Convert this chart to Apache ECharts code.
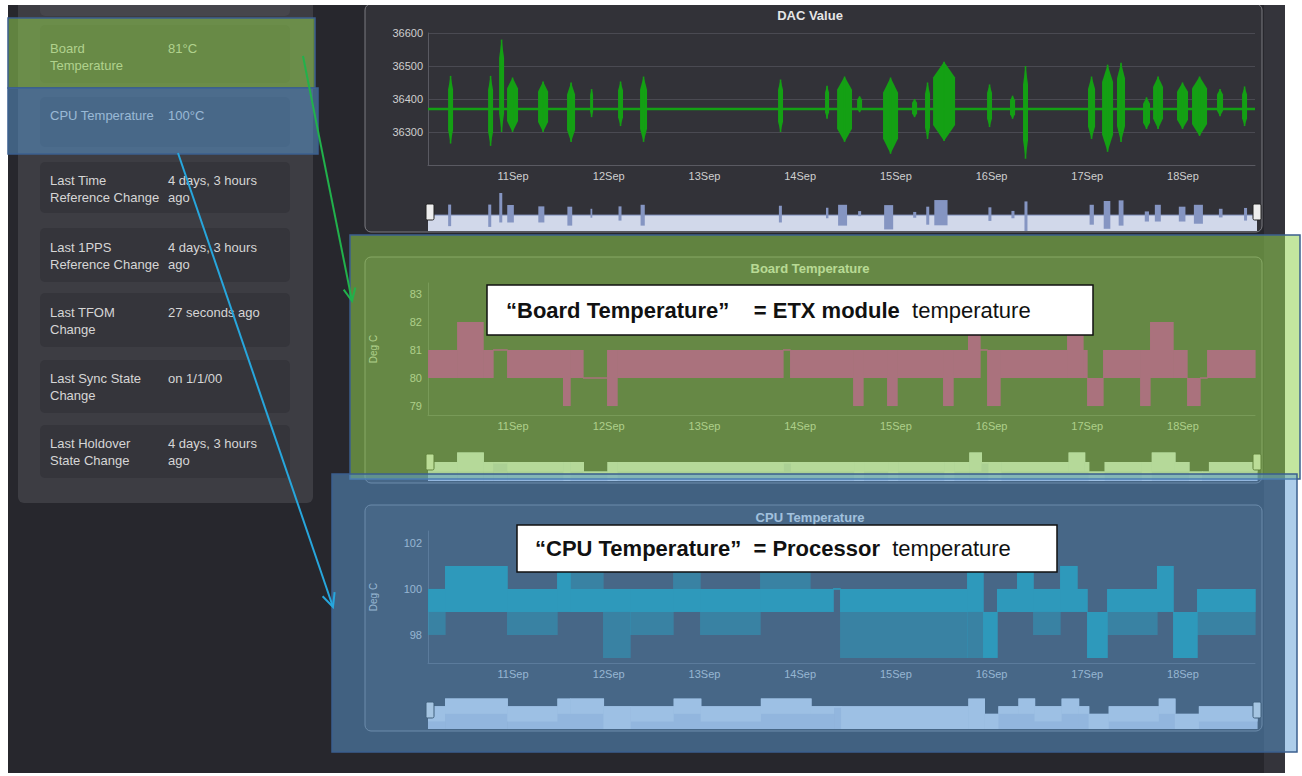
<!DOCTYPE html>
<html>
<head>
<meta charset="utf-8">
<title>DAC / Board / CPU temperature dashboard</title>
<script src="https://cdn.jsdelivr.net/npm/echarts@6.0.0/dist/echarts.min.js"></script>
<style>
html,body{margin:0;padding:0;background:#ffffff;overflow:hidden;}
#chart{width:1302px;height:776px;}
</style>
</head>
<body>
<div id="chart"></div>
<script>
// ================= DATA (times are decimal days of September) =================
const axisStartDay = 10.111;
const axisEndDay = 18.753;
const xTickDays = [11, 12, 13, 14, 15, 16, 17, 18];
const xTickSuffix = 'Sep';

const dacYTicks = [36300, 36400, 36500, 36600];
const boardYTicks = [79, 80, 81, 82, 83];
const cpuYTicks = [98, 100, 102];

// DAC value: steady level plus oscillation bursts
const dacBaseDays = [10.111, 18.753];
const dacBaseValues = [36370, 36370];
const dacBurstStart = [10.321,10.739,10.854,10.937,11.261,11.564,11.805,12.097,12.327,13.769,14.260,14.386,14.595,14.866,15.169,15.305,15.389,15.953,16.193,16.329,17.008,17.155,17.311,17.583,17.688,17.938,18.095,18.356,18.618];
const dacBurstEnd   = [10.373,10.791,10.906,11.052,11.366,11.648,11.836,12.149,12.400,13.821,14.302,14.542,14.647,15.023,15.222,15.357,15.619,16.005,16.246,16.381,17.082,17.270,17.395,17.656,17.792,18.053,18.252,18.419,18.670];
const dacBurstLow   = [36265,36258,36300,36300,36300,36270,36345,36318,36270,36300,36340,36270,36360,36234,36345,36279,36273,36315,36340,36219,36279,36240,36270,36309,36309,36309,36288,36348,36318];
const dacBurstHigh  = [36470,36470,36580,36465,36453,36450,36430,36453,36468,36459,36440,36468,36408,36465,36400,36450,36513,36444,36410,36500,36468,36504,36510,36405,36468,36450,36468,36430,36438];

// Board temperature: segment edges and min/max reading inside each segment
const boardEdges = [10.111,10.415,10.687,10.791,10.937,11.522,11.596,11.731,11.982,12.087,13.821,13.894,14.553,14.657,14.908,15.013,15.493,15.598,15.754,15.880,15.953,16.089,16.789,16.956,16.998,17.165,17.552,17.656,17.897,18.043,18.179,18.252,18.753];
const boardLow  = [80,80,80,81,80,79,80,80,79,80,81,80,79,80,79,80,79,80,80,81,79,80,80,80,79,80,79,80,80,79,80,80];
const boardHigh = [81,82,81,81,81,81,81,80,81,81,81,81,81,81,81,81,81,81,82,81,81,81,82,81,80,81,81,82,81,80,80,81];

// CPU temperature: segment edges, outer (sparse) range and dense core range
const cpuEdges = [10.111,10.289,10.937,11.460,11.596,11.940,12.223,12.672,12.954,13.581,14.103,14.344,14.417,15.744,15.911,16.057,16.266,16.434,16.716,16.893,16.998,17.207,17.729,17.897,18.147,18.753];
const cpuLow      = [98,99,98,99,99,97,98,99,98,99,99,100,97,97,97,99,99,98,99,99,97,98,99,97,98];
const cpuHigh     = [100,101,100,101,101,100,100,101,100,101,100,100,100,101,99,100,101,100,101,100,99,100,101,99,100];
const cpuCoreLow  = [99,99,99,99,99,99,99,99,99,99,99,100,99,99,97,99,99,99,99,99,97,99,99,97,99];
const cpuCoreHigh = [100,101,100,101,100,100,100,100,100,100,100,100,100,101,99,100,101,100,101,100,99,100,101,99,100];

// Status panel
const infoLabels = [['Board','Temperature'],['CPU Temperature'],['Last Time','Reference Change'],['Last 1PPS','Reference Change'],['Last TFOM','Change'],['Last Sync State','Change'],['Last Holdover','State Change']];
const infoValues = [['81°C'],['100°C'],['4 days, 3 hours','ago'],['4 days, 3 hours','ago'],['27 seconds ago'],['on 1/1/00'],['4 days, 3 hours','ago']];

const chartTitles = ['DAC Value', 'Board Temperature', 'CPU Temperature'];
const yAxisName = 'Deg C';
const note1 = { quoted: '“Board Temperature”', eq: '    = ETX module', rest: '  temperature' };
const note2 = { quoted: '“CPU Temperature”', eq: '  = Processor', rest: '  temperature' };

// ================= BUILD =================
const T0 = Date.UTC(2016, 8, 1);
const ts = d => T0 + (d - 1) * 86400000;
const xMin = ts(axisStartDay), xMax = ts(axisEndDay);
const FONT = 'Liberation Sans, Arial, sans-serif';

const dacBase = dacBaseDays.map((d, i) => [ts(d), dacBaseValues[i]]);
const dacBursts = dacBurstStart.map((s, i) => [ts(s), ts(dacBurstEnd[i]), dacBurstLow[i], dacBurstHigh[i]]);
const boardSegs = boardLow.map((v, i) => [ts(boardEdges[i]), ts(boardEdges[i + 1]), v, boardHigh[i]]);
const cpuSegs = cpuLow.map((v, i) => [ts(cpuEdges[i]), ts(cpuEdges[i + 1]), v, cpuHigh[i]]);
const cpuCore = cpuCoreLow.map((v, i) => [ts(cpuEdges[i]), ts(cpuEdges[i + 1]), v, cpuCoreHigh[i]]);

function spindle(color) {
  return function (params, api) {
    const pLo = api.coord([api.value(0), api.value(2)]);
    const pHi = api.coord([api.value(1), api.value(3)]);
    const x0 = pLo[0], x1 = pHi[0], yLo = pLo[1], yHi = pHi[1];
    const xm = (x0 + x1) / 2, h = yLo - yHi;
    const ya = yHi + h * 0.2, yb = yLo - h * 0.2;
    return { type: 'group', children: [
      { type: 'polygon', shape: { points: [[xm, yHi], [x1, ya], [x1, yb], [xm, yLo], [x0, yb], [x0, ya]] }, style: { fill: color } },
      { type: 'line', shape: { x1: xm, y1: yHi, x2: xm, y2: yLo }, style: { stroke: color, lineWidth: 1.6 } }
    ]};
  };
}
function band(color, opacity, minH) {
  return function (params, api) {
    const a = api.coord([api.value(0), api.value(3)]);
    const b = api.coord([api.value(1), api.value(2)]);
    let y = a[1], h = b[1] - a[1];
    if (h < minH) { y -= (minH - h) / 2; h = minH; }
    return { type: 'rect', shape: { x: a[0], y: y, width: Math.max(1, b[0] - a[0] + 0.6), height: h }, style: { fill: color, opacity: opacity } };
  };
}
function navBursts(color) {
  return function (params, api) {
    const a = api.coord([api.value(0), api.value(3)]);
    const b = api.coord([api.value(1), api.value(2)]);
    return { type: 'rect', shape: { x: a[0], y: a[1], width: Math.max(1.5, (b[0] - a[0]) * 0.6), height: b[1] - a[1] }, style: { fill: color } };
  };
}
function navBand(areaColor, lineColor) {
  return function (params, api) {
    const cs = params.coordSys;
    const a = api.coord([api.value(0), api.value(3)]);
    const b = api.coord([api.value(1), api.value(2)]);
    const bottom = cs.y + cs.height;
    const top = Math.max(cs.y, a[1]);
    const lo = Math.min(bottom, b[1]);
    const w = Math.max(1, b[0] - a[0] + 0.6);
    return { type: 'group', children: [
      { type: 'rect', shape: { x: a[0], y: top, width: w, height: bottom - top }, style: { fill: areaColor } },
      { type: 'rect', shape: { x: a[0], y: top, width: w, height: Math.max(1.5, lo - top) }, style: { fill: lineColor } }
    ]};
  };
}

const LABEL = '#cfcfcf', AXIS = '#5a5a62';
function mainX(gi) {
  return { type: 'value', gridIndex: gi, min: xMin, max: xMax,
    axisLine: { show: true, lineStyle: { color: AXIS, width: 1 } },
    axisTick: { show: false }, splitLine: { show: false },
    axisLabel: { customValues: xTickDays.map(ts), formatter: v => new Date(v).getUTCDate() + xTickSuffix,
      color: LABEL, fontSize: 11, fontFamily: FONT, margin: 5, hideOverlap: false } };
}
function navX(gi) { return { type: 'value', gridIndex: gi, min: xMin, max: xMax, show: false }; }
function navY(gi, min, max) { return { type: 'value', gridIndex: gi, min: min, max: max, show: false, scale: true }; }
function tempY(gi, min, max, ticks) {
  return { type: 'value', gridIndex: gi, min: min, max: max,
    axisLine: { show: true, lineStyle: { color: AXIS } }, axisTick: { show: false }, splitLine: { show: false },
    axisLabel: { customValues: ticks, formatter: v => String(v), color: LABEL, fontSize: 11, fontFamily: FONT, margin: 6 },
    name: yAxisName, nameLocation: 'middle', nameGap: 50, nameTextStyle: { color: LABEL, fontSize: 10, fontFamily: FONT } };
}
function slider(ai, top) {
  return { type: 'slider', xAxisIndex: ai, left: 428, width: 829, top: top, height: 38, start: 0, end: 100,
    filterMode: 'none', showDataShadow: false, showDetail: false, brushSelect: false, realtime: false,
    backgroundColor: 'rgba(0,0,0,0)', borderColor: 'rgba(0,0,0,0)', fillerColor: 'rgba(0,0,0,0)',
    moveHandleSize: 0, moveHandleStyle: { opacity: 0 },
    handleIcon: 'path://M2,0H8A2,2,0,0,1,10,2V18A2,2,0,0,1,8,20H2A2,2,0,0,1,0,18V2A2,2,0,0,1,2,0Z',
    handleSize: 16, handleStyle: { color: '#eeeeee', borderColor: '#222222', borderWidth: 1 },
    emphasis: { handleStyle: { color: '#eeeeee', borderColor: '#222222' } }, z: 10 };
}

// ---------- graphic decoration ----------
const G = [];
function R(x, y, w, h, fill, z, extra) { G.push(Object.assign({ type: 'rect', silent: true, z: z, shape: { x: x, y: y, width: w, height: h, r: (extra && extra.r) || 0 }, style: Object.assign({ fill: fill }, (extra && extra.style) || {}) })); }
function T(x, y, text, font, fill, z, align) { G.push({ type: 'text', silent: true, z: z, x: x, y: y, style: { text: text, font: font, fill: fill, align: align || 'left', verticalAlign: 'middle' } }); }

R(8, 5, 1277, 768, '#27272d', -20);
R(1264, 5, 21, 768, '#34343b', -19);
R(18, -10, 295, 513, '#3d3d43', -18, { r: 6 });
const cardY = [25, 97, 162, 228, 293, 360, 425], cardH = [58, 50, 51, 54, 54, 53, 53];
const textY = [48, 115, 180, 247, 312, 378, 443];
R(40, -40, 250, 56, '#46464c', -17, { r: 5 });
cardY.forEach((y, i) => {
  R(40, y, 250, cardH[i], '#35353b', -17, { r: 5 });
  infoLabels[i].forEach((t, k) => T(50, textY[i] + k * 17, t, '13px ' + FONT, '#d6d6d6', -16));
  infoValues[i].forEach((t, k) => T(168, textY[i] + k * 17, t, '13px ' + FONT, '#d6d6d6', -16));
});
[[4, 228], [257, 226], [505, 226]].forEach(p => R(365, p[0], 897, p[1], '#323238', -15, { r: 6, style: { stroke: '#7a7a80', lineWidth: 1 } }));
T(810, 15, chartTitles[0], 'bold 13px ' + FONT, '#e6e6e6', -14, 'center');
T(810, 268, chartTitles[1], 'bold 13px ' + FONT, '#e6e6e6', -14, 'center');
T(810, 517, chartTitles[2], 'bold 13px ' + FONT, '#e6e6e6', -14, 'center');
R(0, 0, 1302, 5, '#ffffff', 40);

// overlays
const OUT = { stroke: '#3b5f8e', lineWidth: 1.5 };
R(8, 18, 307, 70, 'rgba(146,208,80,0.55)', 50, { style: OUT });
R(8, 88, 310, 66, 'rgba(91,155,213,0.5)', 50, { style: OUT });
R(350, 235, 950, 244, 'rgba(146,208,80,0.55)', 50, { style: OUT });
R(332, 474, 965, 278, 'rgba(91,155,213,0.5)', 51, { style: OUT });

// arrows
function arrow(x1, y1, x2, y2, a1, a2, color) {
  G.push({ type: 'line', silent: true, z: 55, shape: { x1: x1, y1: y1, x2: x2, y2: y2 }, style: { stroke: color, lineWidth: 2 } });
  G.push({ type: 'polyline', silent: true, z: 55, shape: { points: [a1, [x2, y2], a2] }, style: { stroke: color, lineWidth: 2, fill: null } });
}
arrow(303, 56, 352, 301, [343.7, 289.7], [355.3, 287.4], '#21b24b');
arrow(178, 153, 333, 607, [322.6, 596.2], [334.6, 592.1], '#27a6dc');

// annotation boxes
function note(x, y, w, h, tx, n) {
  R(x, y, w, h, '#ffffff', 60, { style: { stroke: '#111111', lineWidth: 1.5 } });
  G.push({ type: 'text', silent: true, z: 61, x: tx, y: y + h / 2, style: {
    text: '{b|' + n.quoted + n.eq + '}{n|' + n.rest + '}', verticalAlign: 'middle', align: 'left',
    rich: { b: { fontSize: 22, fontWeight: 'bold', fontFamily: FONT, fill: '#111111' }, n: { fontSize: 22, fontFamily: FONT, fill: '#111111' } } } });
}
note(487, 285, 606, 50, 506, note1);
note(517, 525, 540, 47, 535, note2);

const option = {
  animation: false,
  backgroundColor: '#ffffff',
  textStyle: { fontFamily: FONT },
  grid: [
    { left: 428, top: 33, width: 827, height: 132 },
    { left: 428, top: 283, width: 827, height: 132 },
    { left: 428, top: 531, width: 827, height: 132 },
    { left: 428, top: 193, width: 829, height: 38 },
    { left: 428, top: 443, width: 829, height: 38 },
    { left: 428, top: 691, width: 829, height: 38 }
  ],
  xAxis: [mainX(0), mainX(1), mainX(2), navX(3), navX(4), navX(5)],
  yAxis: [
    { type: 'value', gridIndex: 0, min: 36200, max: 36600, interval: 100,
      axisLine: { show: true, lineStyle: { color: AXIS } }, axisTick: { show: false },
      splitLine: { show: true, lineStyle: { color: '#4a4a52' } },
      axisLabel: { customValues: dacYTicks, formatter: v => String(v), color: LABEL, fontSize: 11, fontFamily: FONT, margin: 5 } },
    tempY(1, 78.68, 83.39, boardYTicks),
    tempY(2, 96.78, 102.52, cpuYTicks),
    navY(3, 'dataMin', 'dataMax'), navY(4, 79, 83), navY(5, 97, 102)
  ],
  dataZoom: [slider(0, 193), slider(1, 443), slider(2, 691)],
  series: [
    { type: 'line', xAxisIndex: 0, yAxisIndex: 0, data: dacBase, symbol: 'none', silent: true,
      lineStyle: { color: '#14a014', width: 2.5 } },
    { type: 'custom', xAxisIndex: 0, yAxisIndex: 0, data: dacBursts, encode: { x: [0, 1], y: [2, 3] }, silent: true,
      renderItem: spindle('#14a014'), z: 3 },
    { type: 'custom', xAxisIndex: 1, yAxisIndex: 1, data: boardSegs, encode: { x: [0, 1], y: [2, 3] }, silent: true,
      renderItem: band('#c800b4', 1, 1.5) },
    { type: 'custom', xAxisIndex: 2, yAxisIndex: 2, data: cpuSegs, encode: { x: [0, 1], y: [2, 3] }, silent: true,
      renderItem: band('#0096a0', 0.55, 1.5) },
    { type: 'custom', xAxisIndex: 2, yAxisIndex: 2, data: cpuCore, encode: { x: [0, 1], y: [2, 3] }, silent: true,
      renderItem: band('#0096a0', 1, 1.5), z: 3 },
    { type: 'line', xAxisIndex: 3, yAxisIndex: 3, data: dacBase, symbol: 'none', silent: true,
      lineStyle: { color: '#8595c2', width: 1 }, areaStyle: { color: '#d1d8ea', opacity: 1 } },
    { type: 'custom', xAxisIndex: 3, yAxisIndex: 3, data: dacBursts, encode: { x: [0, 1], y: [2, 3] }, silent: true,
      renderItem: navBursts('#8595c2'), z: 3 },
    { type: 'custom', xAxisIndex: 4, yAxisIndex: 4, data: boardSegs, encode: { x: [0, 1], y: [2, 3] }, silent: true,
      renderItem: navBand('#c9d1e6', '#dfe5f2') },
    { type: 'custom', xAxisIndex: 5, yAxisIndex: 5, data: cpuSegs, encode: { x: [0, 1], y: [2, 3] }, silent: true,
      renderItem: navBand('#c9d1e6', '#dfe5f2') }
  ],
  graphic: { elements: G }
};

const chart = echarts.init(document.getElementById('chart'), null, { renderer: 'svg', width: 1302, height: 776 });
chart.setOption(option);
</script>
</body>
</html>
